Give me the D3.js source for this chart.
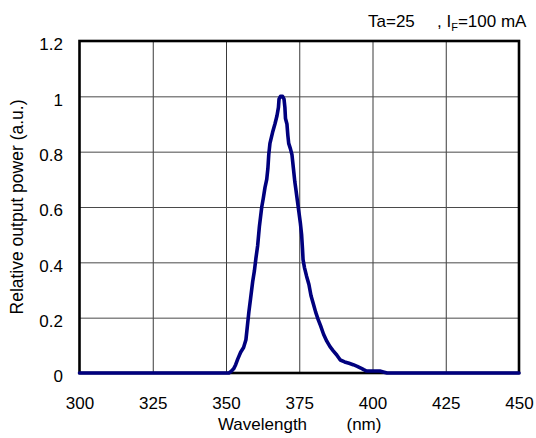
<!DOCTYPE html>
<html>
<head>
<meta charset="utf-8">
<script src="https://cdn.jsdelivr.net/npm/d3@7"></script>
<style>
  html, body { margin: 0; padding: 0; background: #fff; }
  svg { display: block; font-family: "Liberation Sans", Arial, sans-serif; }
</style>
</head>
<body>
<svg id="chart" width="536" height="438"></svg>
<script>
// ---- data ----
const xTicks = [300, 325, 350, 375, 400, 425, 450];
const yTicks = [0, 0.2, 0.4, 0.6, 0.8, 1, 1.2];
const yTickLabels = ["0", "0.2", "0.4", "0.6", "0.8", "1", "1.2"];
const wavelength = [300, 351.0, 351.8, 352.6, 353.3, 354.0, 355.0, 356.0, 356.8, 357.3, 357.8, 358.4,
  359.1, 359.7, 360.2, 360.8, 361.4, 362.2, 362.7, 363.3, 363.9, 364.3, 364.6, 365.0, 365.9, 366.7,
  367.4, 367.9, 368.1, 368.6, 369.3, 369.8, 370.1, 370.3, 370.8, 371.1, 371.4, 372.0, 372.5, 373.0,
  373.5, 373.9, 374.4, 374.9, 375.4, 375.8, 376.1, 376.3, 376.8, 377.5, 378.3, 379.0, 379.8, 380.6,
  381.4, 382.3, 383.3, 384.4, 385.5, 386.6, 387.8, 389.0, 390.5, 392.0, 393.4, 394.8, 396.0, 397.0,
  398.0, 400.0, 402.5, 404.0, 405.0, 450];
const power = [0, 0, 0.006, 0.015, 0.03, 0.05, 0.075, 0.092, 0.12, 0.17, 0.22, 0.27,
  0.33, 0.37, 0.414, 0.46, 0.53, 0.60, 0.63, 0.67, 0.70, 0.74, 0.79, 0.83, 0.87, 0.90,
  0.93, 0.96, 0.99, 1.0, 1.0, 0.99, 0.96, 0.92, 0.90, 0.86, 0.83, 0.81, 0.79, 0.74,
  0.69, 0.66, 0.62, 0.58, 0.54, 0.50, 0.45, 0.41, 0.38, 0.35, 0.32, 0.28, 0.25, 0.22,
  0.195, 0.17, 0.14, 0.115, 0.095, 0.08, 0.065, 0.047, 0.04, 0.035, 0.030, 0.024, 0.018, 0.012,
  0.007, 0.007, 0.007, 0.003, 0, 0];
const xLabel = "Wavelength";
const xUnit = "(nm)";
const yLabel = "Relative output power (a.u.)";

// ---- layout ----
const pLeft = 79.5, pRight = 519, pTop = 41, pBottom = 373;
const svg = d3.select("#chart");
const x = d3.scaleLinear().domain([300, 450]).range([pLeft, pRight]);
const y = d3.scaleLinear().domain([0, 1.2]).range([pBottom, pTop]);

// grid
svg.append("g")
  .attr("transform", `translate(0,${pBottom})`)
  .call(d3.axisBottom(x).tickValues(xTicks.slice(1, -1)).tickSize(-(pBottom - pTop)).tickFormat(""))
  .call(g => g.select(".domain").remove())
  .call(g => g.selectAll("line").attr("stroke", "#3a3a3a").attr("stroke-width", 1));
svg.append("g")
  .attr("transform", `translate(${pLeft},0)`)
  .call(d3.axisLeft(y).tickValues(yTicks.slice(1, -1)).tickSize(-(pRight - pLeft)).tickFormat(""))
  .call(g => g.select(".domain").remove())
  .call(g => g.selectAll("line").attr("stroke", "#4a4a4a").attr("stroke-width", 1));

// frame
svg.append("rect")
  .attr("x", pLeft).attr("y", pTop)
  .attr("width", pRight - pLeft).attr("height", pBottom - pTop)
  .attr("fill", "none").attr("stroke", "#000").attr("stroke-width", 2.6);

// tick labels
svg.append("g")
  .attr("transform", `translate(0,${pBottom})`)
  .call(d3.axisBottom(x).tickValues(xTicks).tickSize(0).tickPadding(0).tickFormat(d3.format("d")))
  .call(g => g.select(".domain").remove())
  .call(g => g.selectAll("text").attr("y", 36).attr("dy", 0)
     .attr("font-size", 17).attr("fill", "#000").attr("font-family", "Liberation Sans, Arial, sans-serif"));
svg.append("g")
  .attr("transform", `translate(63,0)`)
  .call(d3.axisLeft(y).tickValues(yTicks).tickSize(0).tickPadding(0)
     .tickFormat((d, i) => yTickLabels[i]))
  .call(g => g.select(".domain").remove())
  .call(g => g.selectAll("text").attr("x", 0).attr("dy", "0.52em")
     .attr("font-size", 17).attr("fill", "#000").attr("font-family", "Liberation Sans, Arial, sans-serif"));

// curve
const pts = wavelength.map((w, i) => [w, power[i]]);
svg.append("path")
  .datum(pts)
  .attr("fill", "none")
  .attr("stroke", "#00007e")
  .attr("stroke-width", 3.6)
  .attr("stroke-linejoin", "round")
  .attr("stroke-linecap", "round")
  .attr("d", d3.line().x(d => x(d[0])).y(d => y(d[1])));

// axis titles
svg.append("text").attr("x", 262.5).attr("y", 430).attr("text-anchor", "middle")
  .attr("font-size", 17).text(xLabel);
svg.append("text").attr("x", 346.5).attr("y", 430).attr("text-anchor", "start")
  .attr("font-size", 17).text(xUnit);
svg.append("text")
  .attr("transform", "translate(23,207) rotate(-90)")
  .attr("text-anchor", "middle").attr("font-size", 17.5).text(yLabel);

// condition note
svg.append("text").attr("x", 368).attr("y", 27).attr("font-size", 17).text("Ta=25");
const t2 = svg.append("text").attr("x", 437).attr("y", 27).attr("font-size", 17);
t2.append("tspan").text(", I");
t2.append("tspan").attr("font-size", 11).attr("dy", 4).text("F");
t2.append("tspan").attr("dy", -4).text("=100 mA");
</script>
</body>
</html>
